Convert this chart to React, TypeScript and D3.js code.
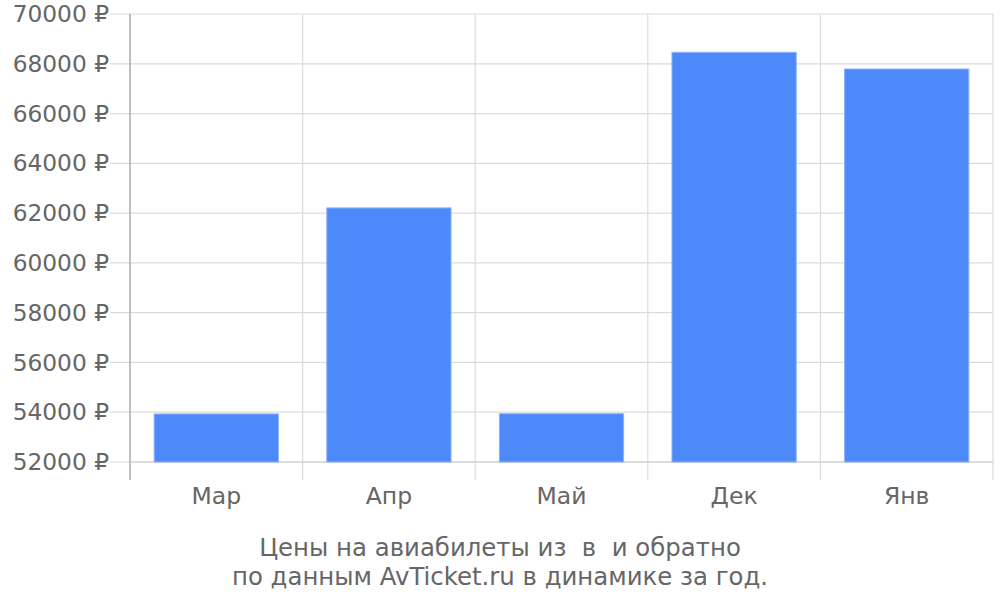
import React from "react";
import * as d3 from "d3";

const categories = ["Мар", "Апр", "Май", "Дек", "Янв"];
const prices = [53930, 62210, 53940, 68460, 67790];
const yTicks = [52000, 54000, 56000, 58000, 60000, 62000, 64000, 66000, 68000, 70000];
const titleLines = ["Цены на авиабилеты из  в  и обратно", "по данным AvTicket.ru в динамике за год."];

export default function App() {
  const W = 1000, H = 600;
  const left = 130, right = 993, top = 14, bottom = 462;
  const x = d3.scaleBand<string>().domain(categories).range([left, right]).paddingInner(0.28).paddingOuter(0.14);
  const xb = d3.scaleBand<string>().domain(categories).range([left, right]);
  const y = d3.scaleLinear().domain([52000, 70000]).range([bottom, top]);
  const font = "'DejaVu Sans', sans-serif";
  const grey = "#666";
  return (
    <svg width={W} height={H} style={{ position: "absolute", left: 0, top: 0 }} fontFamily={font}>
      <rect width={W} height={H} fill="#fff" />
      {yTicks.map((t) => (
        <g key={t}>
          <line x1={110} x2={right} y1={y(t)} y2={y(t)} stroke="#dcdcdc" strokeWidth={1.2} />
          <text x={109} y={y(t)} dy="0.35em" textAnchor="end" fontSize={23.3} fill={grey}>
            {t} ₽
          </text>
        </g>
      ))}
      {categories.map((c) => (
        <line key={c} x1={xb(c)! + xb.bandwidth()} x2={xb(c)! + xb.bandwidth()} y1={top} y2={480} stroke="#dcdcdc" strokeWidth={1.2} />
      ))}
      <line x1={left} x2={left} y1={top} y2={480} stroke="#aaa" strokeWidth={1.5} />
      <line x1={left} x2={right} y1={bottom} y2={bottom} stroke="#ccc" strokeWidth={1.2} />
      {categories.map((c, i) => (
        <rect key={c} x={x(c)} y={y(prices[i])} width={x.bandwidth()} height={bottom - y(prices[i])} fill="#4d89f9" stroke="#8db3fb" strokeWidth={1} />
      ))}
      {categories.map((c) => (
        <text key={c} x={xb(c)! + xb.bandwidth() / 2} y={496} dy="0.35em" textAnchor="middle" fontSize={23.5} fill={grey}>
          {c}
        </text>
      ))}
      {titleLines.map((l, i) => (
        <text key={i} x={500} y={547 + i * 29} dy="0.35em" textAnchor="middle" fontSize={24.4} fill={grey} style={{ whiteSpace: "pre" }}>
          {l}
        </text>
      ))}
    </svg>
  );
}
